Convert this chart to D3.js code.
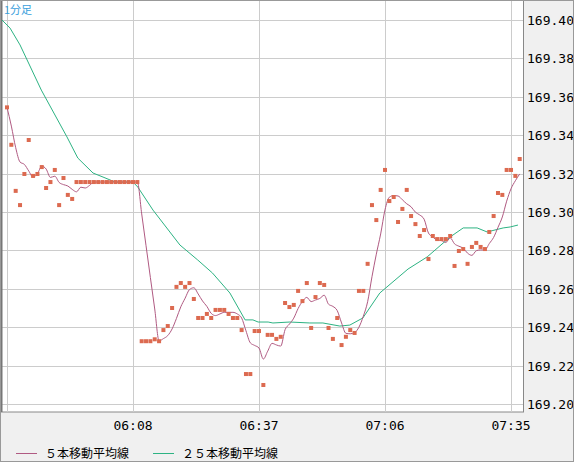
<!DOCTYPE html>
<html><head><meta charset="utf-8">
<script src="https://cdn.jsdelivr.net/npm/d3@7"></script>
<style>body{margin:0;background:#f0f0f0}</style></head>
<body><svg id="c" width="574" height="462"></svg>
<script>
const startMinute = 5*60+39; // 05:39
const closes = [169.3545,169.335,169.311,169.3036,169.3198,169.3375,169.3188,169.3198,169.3234,169.3125,
169.3156,169.3219,169.3036,169.3177,169.3089,169.3068,169.3156,169.3156,169.3156,169.3156,
169.3156,169.3156,169.3156,169.3156,169.3156,169.3156,169.3156,169.3156,169.3156,169.3156,
169.3156,169.2327,169.2327,169.2327,169.2337,169.2327,169.2385,169.2406,169.25,169.261,
169.263,169.261,169.263,169.2547,169.2448,169.2448,169.2469,169.2448,169.249,169.249,
169.249,169.2469,169.2448,169.2448,169.2385,169.2156,169.2156,169.238,169.238,169.2099,
169.236,169.236,169.2339,169.235,169.2526,169.2505,169.2516,169.2589,169.2536,169.263,
169.2396,169.2557,169.263,169.262,169.2396,169.2339,169.2448,169.2307,169.235,169.2385,
169.237,169.2589,169.2589,169.273,169.3036,169.2958,169.3115,169.3219,169.3057,169.3078,
169.2948,169.3016,169.3115,169.2979,169.2937,169.2875,169.2906,169.2755,169.2875,169.2859,
169.2859,169.2859,169.2875,169.2719,169.2797,169.2807,169.273,169.2818,169.2839,169.2818,
169.2807,169.2896,169.2979,169.3099,169.3089,169.3219,169.3219,169.3188,169.3276];
const ma25Idx = [-1.6,0.7,3,7.9,13.8,16.3,19.8,22.1,24.9,29,30.1,33.6,39.8,43.9,47.3,51.3,54.8,56.6,57.8,60.1,61.2,65.1,69.7,72.7,76.6,78.9,81.9,85.8,92.3,96.7,102,105,108.2,110.5,114.2,115.8,117.6];
const ma25Val = [169.4010,169.3958,169.3870,169.3635,169.3391,169.3281,169.3203,169.3182,169.3156,169.3156,169.3130,169.3010,169.2828,169.2750,169.2682,169.2578,169.2438,169.2438,169.2427,169.2427,169.2422,169.2427,169.2422,169.2422,169.2406,169.2411,169.2448,169.2578,169.2703,169.2766,169.2870,169.2917,169.2917,169.2896,169.2917,169.2922,169.2932];
const yTicks = [169.20,169.22,169.24,169.26,169.28,169.30,169.32,169.34,169.36,169.38,169.40];
const xTickIdx = [29,58,87,116];
const legendLabels = ["５本移動平均線","２５本移動平均線"];

const svg = d3.select("#c");
const L=1,R=523,T=0,B=412;
svg.append("rect").attr("x",L+0.5).attr("y",T-1).attr("width",R-L).attr("height",B-T+1).attr("fill","#fff").attr("stroke","#888");
const x = d3.scaleLinear().domain([0,118]).range([7,519.7]);
const y = d3.scaleLinear().domain([169.20,169.40]).range([404,20]);
const g = svg.append("g");
g.selectAll(".hg").data(yTicks).join("line").attr("x1",L+1).attr("x2",R).attr("y1",d=>Math.round(y(d))+0.5).attr("y2",d=>Math.round(y(d))+0.5).attr("stroke","#ccc");
g.selectAll(".vg").data([0,...xTickIdx]).join("line").attr("y1",T).attr("y2",B).attr("x1",d=>Math.round(x(d))+0.5).attr("x2",d=>Math.round(x(d))+0.5).attr("stroke","#ccc");
svg.append("line").attr("x1",1.5).attr("x2",1.5).attr("y1",0).attr("y2",B).attr("stroke","#777").attr("stroke-width",2);
g.selectAll(".yl").data(yTicks).join("text").attr("x",527).attr("y",d=>y(d)+5).text(d=>d.toFixed(2))
 .attr("font-family","DejaVu Sans Mono").attr("font-size",13).attr("fill","#000");
const fmt = i=>{const m=startMinute+i;return String(Math.floor(m/60)).padStart(2,"0")+":"+String(m%60).padStart(2,"0");};
g.selectAll(".xl").data(xTickIdx).join("text").attr("x",d=>x(d)).attr("y",430).attr("text-anchor","middle").text(fmt)
 .attr("font-family","DejaVu Sans Mono").attr("font-size",13).attr("fill","#000");
// MA5 from closes
const ma5 = closes.map((c,i)=>{const s=closes.slice(Math.max(0,i-4),i+1);return d3.mean(s);});
const clip = svg.append("clipPath").attr("id","cp").append("rect").attr("x",2).attr("y",0).attr("width",R-2).attr("height",B);
const pg = svg.append("g").attr("clip-path","url(#cp)");
pg.append("path").datum(ma25Idx.map((d,i)=>[d,ma25Val[i]])).attr("d",d3.line().x(d=>x(d[0])).y(d=>y(d[1])))
 .attr("fill","none").attr("stroke","#2db383").attr("stroke-width",1);
pg.append("path").datum(ma5).attr("d",d3.line().x((d,i)=>x(i)).y(d=>y(d)).curve(d3.curveMonotoneX))
 .attr("fill","none").attr("stroke","#b05a82").attr("stroke-width",1);
pg.selectAll(".pt").data(closes).join("rect").attr("x",(d,i)=>x(i)-2).attr("y",d=>y(d)-2).attr("width",4).attr("height",4).attr("fill","#dc6a50");
svg.append("text").attr("x",4).attr("y",14).text("1分足").attr("font-family","Noto Sans CJK JP").attr("font-size",11).attr("fill","#3aa0dc");
const lc=["#b05a82","#2db383"], lx=[16,153];
legendLabels.forEach((t,k)=>{
 svg.append("line").attr("x1",lx[k]).attr("x2",lx[k]+21).attr("y1",453.5).attr("y2",453.5).attr("stroke",lc[k]);
 svg.append("text").attr("x",lx[k]+29).attr("y",458).text(t).attr("font-family","Noto Sans CJK JP").attr("font-size",12).attr("fill","#000");
});
svg.append("rect").attr("x",0.5).attr("y",0.5).attr("width",573).attr("height",461).attr("fill","none").attr("stroke","#999");
</script></body></html>
